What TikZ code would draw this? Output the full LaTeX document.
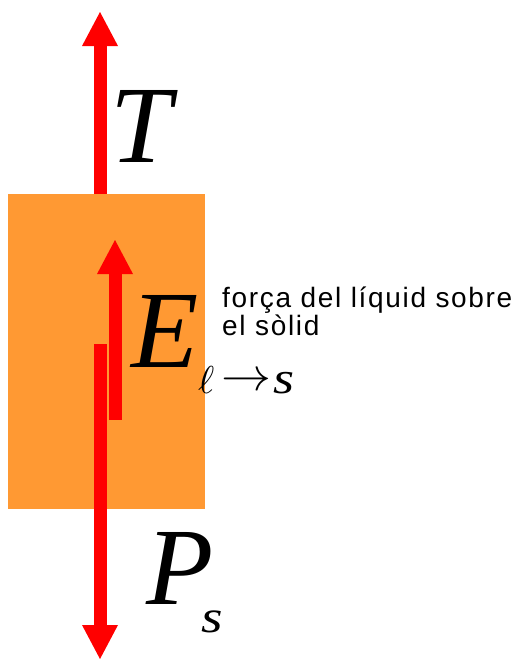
\documentclass[tikz,border=0pt]{standalone}
\usepackage{fontspec}
\setmainfont{Liberation Serif}
\newfontfamily\labfont[LetterSpace=6]{Liberation Sans}
\usetikzlibrary{arrows.meta}
\definecolor{bodyorange}{RGB}{255,153,51}
\definecolor{forcered}{RGB}{255,0,0}
\tikzset{
  force/.style={draw=forcered, line width=13pt,
    -{Triangle[length=34pt,width=36pt,line width=0pt]}},
  sym/.style={inner sep=0pt, anchor=base west,
    font=\fontsize{110}{110}\selectfont\itshape},
  subsym/.style={inner sep=0pt, anchor=base west,
    font=\fontsize{46}{46}\selectfont\itshape},
  note/.style={inner sep=0pt, anchor=base west,
    font=\fontsize{28}{28}\selectfont\labfont}
}
\begin{document}
\begin{tikzpicture}[x=1pt,y=-1pt]
\useasboundingbox (0,0) rectangle (517,659);
\node[fill=bodyorange, minimum width=197pt, minimum height=315pt,
  anchor=north west, inner sep=0pt] (body) at (8,194) {};
\coordinate (tbase) at (100,194);
\coordinate (ttip) at (100,12);
\coordinate (pbase) at (100,344);
\coordinate (ptip) at (100,659);
\coordinate (ebase) at (115,420);
\coordinate (etip) at (115,240);
\draw[force] (tbase) -- (ttip);
\draw[force] (pbase) -- (ptip);
\draw[force] (ebase) -- (etip);
\node[sym] (T) at (110,162) {T};
\node[sym] (E) at (131,367) {E};
\node[inner sep=0pt, anchor=base west] (Esub) at (198,393)
  {\resizebox{!}{27pt}{$\ell$}\hspace{7pt}\raisebox{3pt}{\resizebox{50pt}{17pt}{$\rightarrow$}}\hspace{2pt}{\fontsize{45}{45}\selectfont\itshape\scalebox{1.2}[1]{s}}};
\node[sym] (P) at (146,604) {P};
\node[subsym] (Ps) at (201,632) {\scalebox{1.2}[1]{s}};
\node[note] (n1) at (222,307) {força del líquid sobre};
\node[note] (n2) at (222,335) {el sòlid};
\end{tikzpicture}
\end{document}
